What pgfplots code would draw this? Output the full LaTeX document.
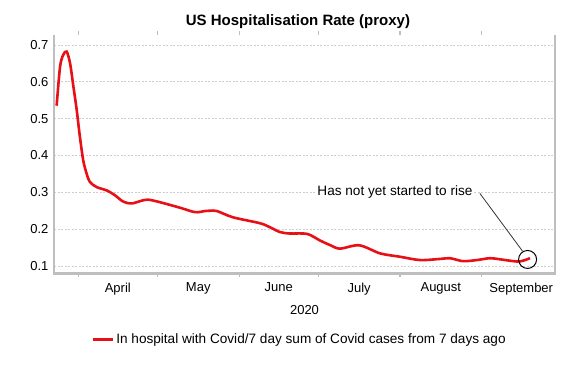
\documentclass[border=0pt]{standalone}
\usepackage{pgfplots}
\pgfplotsset{compat=1.18}
\usepackage{fontspec}
\setmainfont{Liberation Sans}
\definecolor{curvered}{RGB}{230,16,22}
\definecolor{axgray}{RGB}{190,190,190}
\definecolor{gridgray}{RGB}{205,205,205}
\begin{document}
\begin{tikzpicture}
\useasboundingbox (-54pt,-93.7pt) rectangle (515pt,273.3pt);
\begin{axis}[
  scale only axis,
  width=501pt, height=238.3pt,
  xmin=21.8, xmax=211.8,
  ymin=0.080, ymax=0.727,
  axis line style={draw=none},
  font=\fontsize{13}{15}\selectfont,
  /pgf/number format/assume math mode=true,
  ytick={0.1,0.2,0.3,0.4,0.5,0.6,0.7},
  yticklabel style={/pgf/number format/fixed, /pgf/number format/precision=1, xshift=-2pt},
  ymajorgrids,
  major grid style={gridgray, dash pattern=on 2pt off 1.5pt, line width=0.6pt},
  xtick={46,76.5,107,137.5,168.5,199},
  xticklabels={April,May,June,July,August,September},
  xticklabel style={yshift=-6pt},
  major tick length=0pt,
  extra x ticks={31,61,92,122,153,184},
  extra x tick labels={},
  extra x tick style={major tick length=4pt, tick align=outside, tick style={axgray, line width=1.2pt}, grid=none},
  xlabel={2020},
  xlabel style={yshift=0pt},
  title={US Hospitalisation Rate (proxy)},
  title style={at={(0.487,1)}, anchor=center, yshift=7pt, font=\bfseries\fontsize{15}{17}\selectfont},
  legend style={at={(0.49,-0.276)}, anchor=center, draw=none, font=\fontsize{13.6}{15}\selectfont},
  legend image code/.code={\draw[#1, line width=3pt] (0pt,0pt) -- (20pt,0pt);},
  clip=false,
]
\draw[axgray, line width=2.6pt] (rel axis cs:0,1) -- (rel axis cs:0,0) -- (rel axis cs:1,0) -- (rel axis cs:1,1);
\addplot[curvered, line width=2.6pt, smooth, tension=0.5] coordinates {
(22.8,0.535) (24.1,0.641) (25.3,0.673) (26.6,0.682) (27.9,0.650) (29.1,0.590)
(30.4,0.524) (31.6,0.452) (32.9,0.386) (34.2,0.350) (35.4,0.328) (38.0,0.314)
(41.8,0.305) (44.9,0.292) (47.5,0.277) (49.5,0.271) (51.7,0.270) (54.5,0.276)
(57.4,0.280) (62.0,0.273) (69.6,0.258) (75.3,0.246) (79,0.249) (81.0,0.250)
(83.6,0.249) (89.7,0.232) (99.9,0.216) (103.7,0.205) (107.5,0.192) (111.3,0.188)
(117.8,0.187) (122.7,0.169) (127,0.155) (130.3,0.147) (137.6,0.156) (145.5,0.134)
(153.0,0.125) (160.6,0.116) (168.2,0.119) (172.0,0.121) (176.9,0.113) (182.2,0.116)
(187.1,0.121) (190.9,0.118) (197.4,0.112) (200.0,0.115) (202.3,0.121)
};
\addlegendentry{In hospital with Covid/7 day sum of Covid cases from 7 days ago}
\draw[black!80, line width=0.8pt] (axis cs:183.3,0.297) -- (axis cs:199.5,0.140);
\draw[black, line width=1pt] (axis cs:201.4,0.1176) circle[radius=9pt];
\node[fill=white, inner sep=1pt, font=\fontsize{13.6}{15}\selectfont] at (axis cs:151.1,0.3) {Has not yet started to rise};
\end{axis}
\end{tikzpicture}
\end{document}
